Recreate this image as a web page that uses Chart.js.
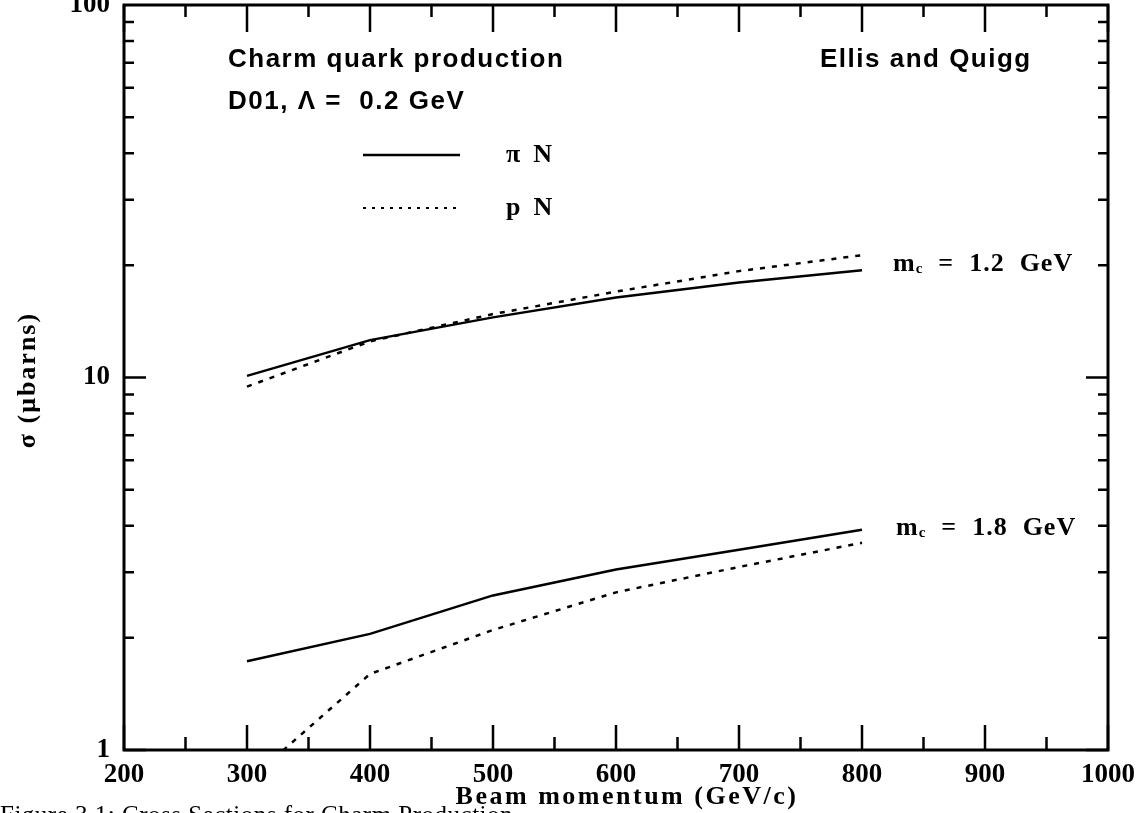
<!DOCTYPE html>
<html>
<head>
<meta charset="utf-8">
<script src="https://cdn.jsdelivr.net/npm/chart.js@4.4.1/dist/chart.umd.min.js"></script>
<style>
html, body { margin: 0; padding: 0; background: #fff; }
#wrap { width: 1145px; height: 813px; }
</style>
</head>
<body>
<div id="wrap"><canvas id="myChart" width="1145" height="813"></canvas></div>
<script>
// beam momentum (GeV/c)
const momentum = [300, 400, 500, 600, 700, 800];
// sigma (microbarns)
const piN_mc12 = [10.1, 12.6, 14.5, 16.4, 18.0, 19.4];
const pN_mc12  = [9.45, 12.5, 14.8, 17.0, 19.3, 21.3];
const piN_mc18 = [1.73, 2.05, 2.6, 3.05, 3.45, 3.9];
const pN_mc18  = [0.82, 1.6, 2.1, 2.65, 3.1, 3.6];
const xTicks = [200, 300, 400, 500, 600, 700, 800, 900, 1000];
const yTicks = [1, 10, 100];

const SERIF = "'Liberation Serif', 'DejaVu Serif', serif";
const SANS = "'Liberation Sans', 'DejaVu Sans', sans-serif";

function series(values) {
    return momentum.map((m, i) => ({ x: m, y: values[i] }));
}

// inward tick marks + frame, like the old plotter output
const frameTicks = {
    id: 'frameTicks',
    afterDraw(chart) {
        const { ctx, chartArea: a, scales: { x, y } } = chart;
        ctx.save();
        ctx.strokeStyle = '#000';
        ctx.lineWidth = 3;
        ctx.strokeRect(a.left, a.top, a.right - a.left, a.bottom - a.top);
        ctx.lineWidth = 2.5;
        ctx.beginPath();
        for (let v = 200; v <= 1000; v += 50) {
            const px = x.getPixelForValue(v);
            const major = v % 100 === 0;
            ctx.moveTo(px, a.bottom); ctx.lineTo(px, a.bottom - (major ? 25 : 13));
            ctx.moveTo(px, a.top); ctx.lineTo(px, a.top + (major ? 27 : 12));
        }
        for (let d = 1; d < 100; d *= 10) {
            for (let m = 1; m <= 9; m++) {
                const py = y.getPixelForValue(d * m);
                const len = m === 1 ? 22 : 10;
                ctx.moveTo(a.left, py); ctx.lineTo(a.left + len, py);
                ctx.moveTo(a.right, py); ctx.lineTo(a.right - len, py);
            }
        }
        ctx.stroke();
        ctx.restore();
    }
};

// texts, legend and axis titles
const annotations = {
    id: 'annotations',
    afterDraw(chart) {
        const { ctx } = chart;
        ctx.save();
        ctx.fillStyle = '#000';
        ctx.textBaseline = 'middle';

        ctx.font = 'bold 26px ' + SANS;
        ctx.letterSpacing = '1.5px';
        ctx.textAlign = 'left';
        ctx.fillText('Charm quark production', 228, 60);
        ctx.fillText('D01, \u039B =  0.2 GeV', 228, 102);
        ctx.fillText('Ellis and Quigg', 820, 60);

        // legend
        ctx.letterSpacing = '0px';
        ctx.lineWidth = 2.5;
        ctx.strokeStyle = '#000';
        ctx.beginPath();
        ctx.moveTo(363, 155); ctx.lineTo(460, 155);
        ctx.stroke();
        ctx.setLineDash([3, 6]);
        ctx.lineWidth = 2;
        ctx.beginPath();
        ctx.moveTo(363, 208); ctx.lineTo(460, 208);
        ctx.stroke();
        ctx.setLineDash([]);
        ctx.font = 'bold 26px ' + SERIF;
        ctx.fillText('\u03C0  N', 506, 155);
        ctx.fillText('p  N', 506, 208);

        // curve labels
        ctx.letterSpacing = '1px';
        const massLabel = (txt, x0, y0) => {
            ctx.font = 'bold 26px ' + SERIF;
            ctx.fillText('m', x0, y0);
            let w = ctx.measureText('m').width;
            ctx.font = 'bold 15px ' + SERIF;
            ctx.fillText('c', x0 + w, y0 + 5);
            w += ctx.measureText('c').width;
            ctx.font = 'bold 26px ' + SERIF;
            ctx.fillText(txt, x0 + w, y0);
        };
        massLabel('  =  1.2  GeV', 893, 264);
        massLabel('  =  1.8  GeV', 896, 528);

        // axis titles
        ctx.font = 'bold 26px ' + SERIF;
        ctx.letterSpacing = '2.5px';
        ctx.textAlign = 'center';
        ctx.fillText('Beam momentum (GeV/c)', 627, 797);
        ctx.save();
        ctx.translate(28, 380);
        ctx.rotate(-Math.PI / 2);
        ctx.letterSpacing = '2px';
        ctx.fillText('\u03C3 (\u03BCbarns)', 0, 0);
        ctx.restore();

        // cut-off caption line
        ctx.letterSpacing = '0.5px';
        ctx.font = '25px ' + SERIF;
        ctx.textAlign = 'left';
        ctx.textBaseline = 'top';
        ctx.fillText('Figure 3.1: Cross Sections for Charm Production', 0, 804);
        ctx.restore();
    }
};

const ctx = document.getElementById('myChart').getContext('2d');
const myChart = new Chart(ctx, {
    type: 'line',
    data: {
        datasets: [
            { label: '\u03C0 N, mc = 1.2 GeV', data: series(piN_mc12), borderColor: '#000', borderWidth: 2.5, pointRadius: 0 },
            { label: 'p N, mc = 1.2 GeV', data: series(pN_mc12), borderColor: '#000', borderWidth: 2.5, borderDash: [5, 7], pointRadius: 0 },
            { label: '\u03C0 N, mc = 1.8 GeV', data: series(piN_mc18), borderColor: '#000', borderWidth: 2.5, pointRadius: 0 },
            { label: 'p N, mc = 1.8 GeV', data: series(pN_mc18), borderColor: '#000', borderWidth: 2.5, borderDash: [5, 7], pointRadius: 0 }
        ]
    },
    options: {
        responsive: false,
        animation: false,
        devicePixelRatio: 1,
        layout: { padding: { left: 0, right: 37, top: 5, bottom: 0 } },
        plugins: { legend: { display: false }, tooltip: { enabled: false } },
        scales: {
            x: {
                type: 'linear',
                min: 200,
                max: 1000,
                afterFit: scale => {
                    scale.height = 63;
                    scale.paddingLeft = 0; scale.paddingRight = 0;
                },
                afterBuildTicks: scale => { scale.ticks = xTicks.map(v => ({ value: v })); },
                grid: { display: false, drawTicks: false },
                border: { display: false },
                ticks: {
                    color: '#000', padding: 9,
                    font: { family: SERIF, size: 27, weight: 'bold' },
                    callback: v => String(v)
                }
            },
            y: {
                type: 'logarithmic',
                min: 1,
                max: 100,
                afterFit: scale => {
                    scale.width = 124;
                    scale.paddingTop = 0; scale.paddingBottom = 0;
                },
                afterBuildTicks: scale => { scale.ticks = yTicks.map(v => ({ value: v })); },
                grid: { display: false, drawTicks: false },
                border: { display: false },
                ticks: {
                    color: '#000', padding: 14, autoSkip: false,
                    font: { family: SERIF, size: 27, weight: 'bold' },
                    callback: v => String(v)
                }
            }
        }
    },
    plugins: [frameTicks, annotations]
});
</script>
</body>
</html>
